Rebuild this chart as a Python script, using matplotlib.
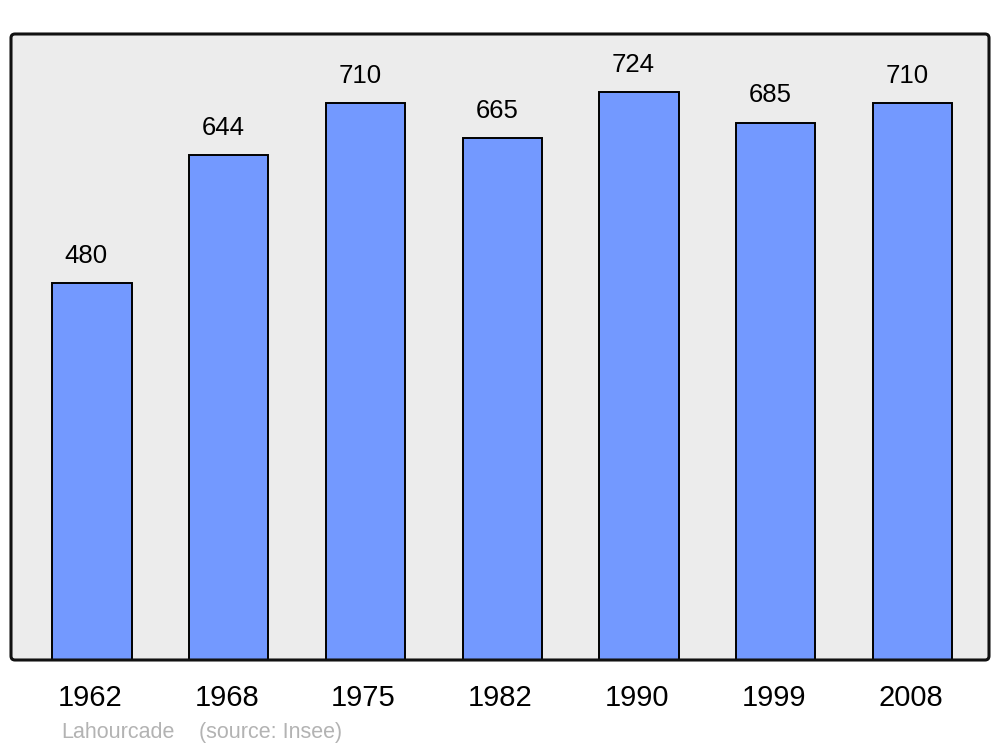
import matplotlib
matplotlib.use("Agg")
import matplotlib.pyplot as plt
import matplotlib.transforms as mtransforms
from matplotlib.patches import FancyBboxPatch

years = ["1962", "1968", "1975", "1982", "1990", "1999", "2008"]
population = [480, 644, 710, 665, 724, 685, 710]
commune = "Lahourcade"
source = "(source: Insee)"

plt.rcParams['font.family'] = ['Liberation Sans', 'DejaVu Sans']

fig = plt.figure(figsize=(10, 7.47), dpi=100)
ax = fig.add_axes([0.011, 1 - 660/747, 0.978, (660 - 34)/747])
ax.set_facecolor('none')
ax.set_zorder(2)

# rounded frame background
bg = FancyBboxPatch((0.011, 1 - 660/747), 0.978, (660 - 34)/747,
                    boxstyle="round,pad=0,rounding_size=0.004",
                    mutation_aspect=1000/747,
                    transform=fig.transFigure, facecolor='#ececec',
                    edgecolor='none', zorder=-1)
fig.add_artist(bg)

x = list(range(len(years)))
bars = ax.bar(x, population, width=0.58, color='#7399ff', edgecolor='black',
              linewidth=1.4, zorder=2)
for xi, v in zip(x, population):
    ax.annotate(str(v), (xi, v), xytext=(-4, 11), textcoords='offset points',
                ha='center', va='bottom', fontsize=18.5, color='black')

ax.set_xlim(-0.592, 6.559)
ax.set_ylim(0, 798)
ax.set_xticks(x)
ax.set_xticklabels(years, fontsize=21)
ax.tick_params(axis='x', length=0, pad=17)
shift = mtransforms.ScaledTranslation(-2/100, 0, fig.dpi_scale_trans)
for lbl in ax.get_xticklabels():
    lbl.set_transform(lbl.get_transform() + shift)
ax.set_yticks([])
for s in ax.spines.values():
    s.set_visible(False)

# rounded frame border on top
fr = FancyBboxPatch((0.011, 1 - 660/747), 0.978, (660 - 34)/747,
                    boxstyle="round,pad=0,rounding_size=0.004",
                    mutation_aspect=1000/747,
                    transform=fig.transFigure, facecolor='none',
                    edgecolor='#111111', linewidth=2.2, zorder=5)
fig.add_artist(fr)

fig.text(0.061, 1 - 738/747, commune, fontsize=15.5, color='#b3b3b3', ha='left', va='baseline')
fig.text(0.199, 1 - 738/747, source, fontsize=15.5, color='#b3b3b3', ha='left', va='baseline')

fig.savefig('out.png', dpi=100, facecolor='white')
